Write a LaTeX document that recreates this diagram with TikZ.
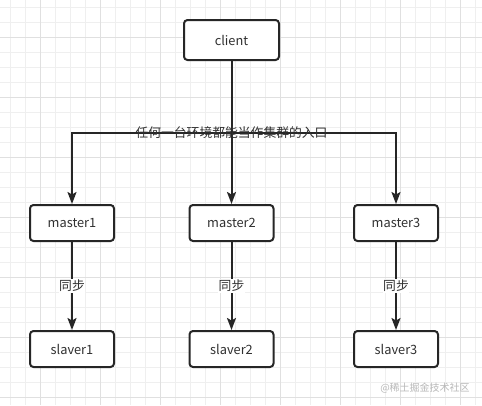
\documentclass[tikz,border=0pt]{standalone}
\usepackage{fontspec}
\newfontfamily\cjk{Noto Sans CJK SC}
\usetikzlibrary{arrows.meta}
\definecolor{ln}{HTML}{262626}
\definecolor{gminor}{HTML}{EFEFEF}
\definecolor{gmajor}{HTML}{E0E0E0}
\definecolor{txt}{HTML}{303030}
\definecolor{wm}{HTML}{B8B8B8}
\tikzset{
  box/.style={draw=ln, line width=2pt, rounded corners=3.5pt, fill=white,
    minimum width=84pt, minimum height=36pt, inner sep=0pt,
    font=\cjk\fontsize{12.8}{14}\selectfont, text=txt},
  clientbox/.style={box, minimum width=95pt, minimum height=40pt},
  conn/.style={draw=ln, line width=2pt, -{Stealth[length=12pt,width=9pt,inset=2.5pt]}},
  plain/.style={draw=ln, line width=2pt},
  lbl/.style={font=\cjk\fontsize{12.8}{14}\selectfont, text=txt, inner sep=1pt},
  synclbl/.style={lbl, fill=white, inner xsep=0.5pt, inner ysep=1.5pt}
}
\begin{document}
\begin{tikzpicture}[x=1pt,y=-1pt]
\useasboundingbox (0,0) rectangle (482,405);
\fill[white] (0,0) rectangle (482,405);
% grid
\foreach \i in {0,...,31} {
  \draw[gminor, line width=0.8pt] ({10.7+15*\i},0) -- ({10.7+15*\i},405);
}
\foreach \j in {0,...,26} {
  \draw[gminor, line width=0.8pt] (0,{7+15*\j}) -- (482,{7+15*\j});
}
\foreach \i in {0,...,7} {
  \draw[gmajor, line width=0.9pt] ({40.7+60*\i},0) -- ({40.7+60*\i},405);
}
\foreach \j in {0,...,6} {
  \draw[gmajor, line width=0.9pt] (0,{37+60*\j}) -- (482,{37+60*\j});
}
% nodes
\node[clientbox] (client) at (231.5,40) {client};
\node[box] (m1) at (72,223) {master1};
\node[box] (m2) at (231.5,223) {master2};
\node[box] (m3) at (396,223) {master3};
\node[box] (s1) at (72,349) {slaver1};
\node[box] (s2) at (231.5,349) {slaver2};
\node[box] (s3) at (396,349) {slaver3};
\coordinate (split) at (231.5,133);
% connectors
\draw[plain] (client.south) -- (split);
\draw[conn] (split) -- (m2.north);
\draw[conn] (split) -| (m1.north);
\draw[conn] (split) -| (m3.north);
\node[lbl] (entry) at (231.5,133) {任何一台环境都能当作集群的入口};
\draw[conn] (m1.south) -- node[synclbl] (sy1) {同步} (s1.north);
\draw[conn] (m2.south) -- node[synclbl] (sy2) {同步} (s2.north);
\draw[conn] (m3.south) -- node[synclbl] (sy3) {同步} (s3.north);
% watermark
\node[font=\cjk\fontsize{10}{12}\selectfont, text=wm, inner sep=0pt] (wmk) at (425,388) {@稀土掘金技术社区};
\end{tikzpicture}
\end{document}
